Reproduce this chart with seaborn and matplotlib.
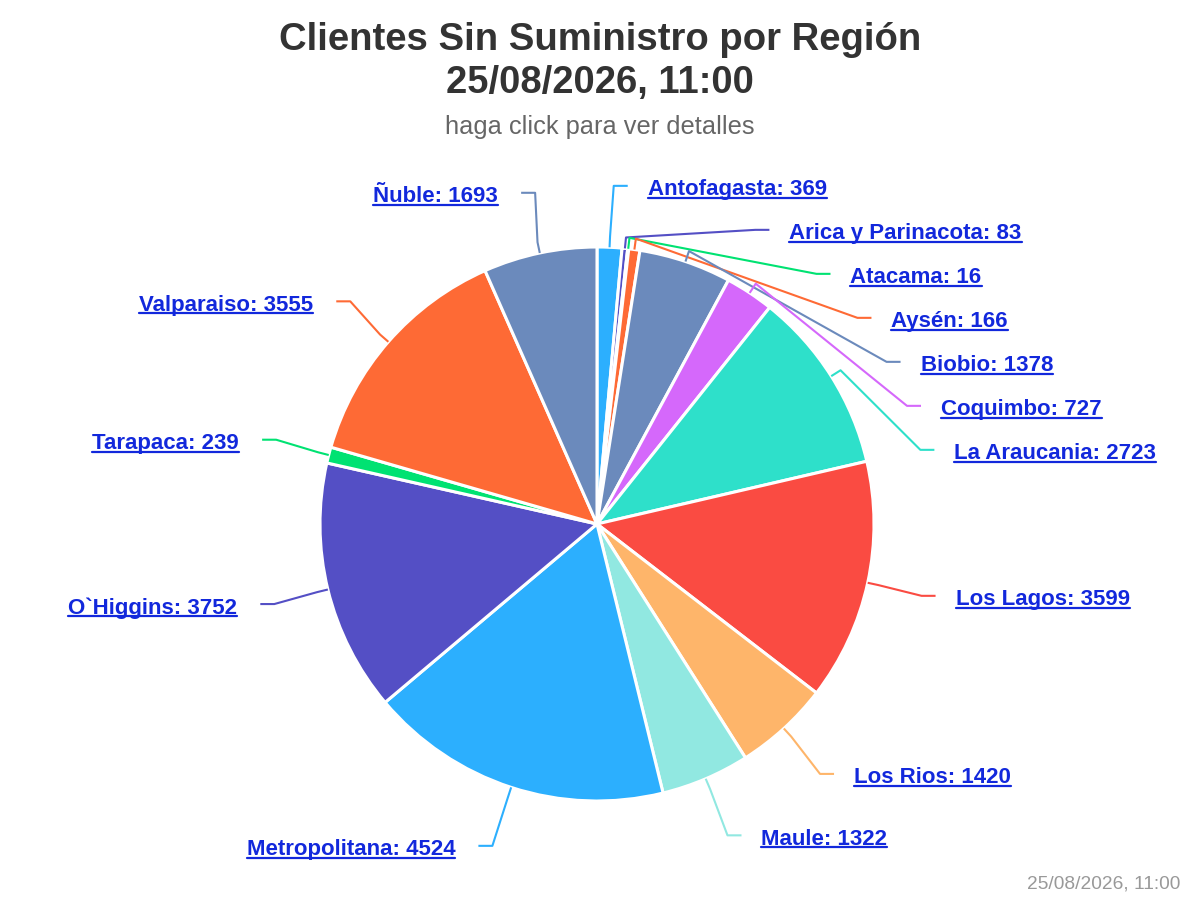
import numpy as np
import matplotlib
matplotlib.use("Agg")
import matplotlib.pyplot as plt
import seaborn as sns

# datos del gráfico
regions = ["Antofagasta", "Arica y Parinacota", "Atacama", "Aysén", "Biobio",
           "Coquimbo", "La Araucania", "Los Lagos", "Los Rios", "Maule",
           "Metropolitana", "O`Higgins", "Tarapaca", "Valparaiso", "Ñuble"]
clients = [369, 83, 16, 166, 1378, 727, 2723, 3599, 1420, 1322,
           4524, 3752, 239, 3555, 1693]
palette = ["#2caffe", "#544fc5", "#00e272", "#fe6a35", "#6b8abc",
           "#d568fb", "#2ee0ca", "#fa4b42", "#feb56a", "#91e8e1"]
title_lines = ["Clientes Sin Suministro por Región", "25/08/2026, 11:00"]
subtitle = "haga click para ver detalles"
credits = "25/08/2026, 11:00"

sns.set_theme(style="white")
plt.rcParams["font.family"] = ["Liberation Sans", "DejaVu Sans"]

W, H = 1200, 900
CX, CY = 597, 524          # centro de la torta (pixeles, y hacia abajo)
R_PIE = 277
R_Y = 338.5                # radio para la posición ideal de las etiquetas
A_X, B_Y, CY_E = 346, 341, 525.5   # elipse donde terminan los conectores
LINK = "#1228dc"

colors = sns.color_palette(palette, n_colors=len(palette))
slice_colors = [colors[i % len(colors)] for i in range(len(clients))]

fig = plt.figure(figsize=(12, 9), dpi=100)
ax = fig.add_axes([0, 0, 1, 1])

ax.pie(clients, colors=slice_colors, startangle=90, counterclock=False,
       center=(CX, H - CY), radius=R_PIE,
       wedgeprops=dict(edgecolor="white", linewidth=2.2))
ax.set_xlim(0, W)
ax.set_ylim(0, H)
ax.set_aspect("equal")
ax.axis("off")

# ángulos medios (grados, sentido horario desde arriba)
total = float(sum(clients))
cum = np.concatenate([[0], np.cumsum(clients)])
mid = (cum[:-1] + np.array(clients) / 2) / total * 360


def place(idx):
    ideal = {i: CY - R_Y * np.cos(np.radians(mid[i])) for i in idx}
    ys, prev = {}, -1e9
    for i in sorted(idx, key=lambda k: ideal[k]):
        ys[i] = max(ideal[i], prev + 44)
        prev = ys[i]
    return ys


right = [i for i in range(len(clients)) if mid[i] < 180]
left = [i for i in range(len(clients)) if mid[i] >= 180]
label_y = {**place(right), **place(left)}

labels = []
for i, name in enumerate(regions):
    t = np.radians(mid[i])
    side = 1 if mid[i] < 180 else -1
    y = label_y[i]
    k = min(abs(y - CY_E) / B_Y, 1.0)
    x_end = CX + side * A_X * np.sqrt(1 - k ** 2)
    ex, ey = CX + R_PIE * np.sin(t), CY - R_PIE * np.cos(t)
    ox, oy = CX + (R_PIE + 11) * np.sin(t), CY - (R_PIE + 11) * np.cos(t)
    px = [ex, ox, x_end - side * 14, x_end]
    py = [ey, oy, y, y]
    ax.plot(px, [H - v for v in py], color=slice_colors[i], lw=1.5,
            solid_capstyle="butt", zorder=1)
    tx = x_end + 20 if side > 0 else x_end - 23
    txt = ax.text(tx, H - (y + 4), f"{name}: {clients[i]}",
                  ha="left" if side > 0 else "right", va="center",
                  fontsize=16, fontweight="bold", color=LINK)
    labels.append(txt)

fig.text(0.5, 1 - 40 / H, title_lines[0], ha="center", va="center",
         fontsize=27.5, fontweight="bold", color="#333333")
fig.text(0.5, 1 - 83 / H, title_lines[1], ha="center", va="center",
         fontsize=27.5, fontweight="bold", color="#333333")
fig.text(0.5, 1 - 127 / H, subtitle, ha="center", va="center",
         fontsize=18.3, color="#666666")
fig.text(1180 / W, 1 - 884 / H, credits, ha="right", va="center",
         fontsize=13.8, color="#999999")

# subrayado de las etiquetas
fig.canvas.draw()
renderer = fig.canvas.get_renderer()
for txt in labels:
    bb = txt.get_window_extent(renderer)
    ax.plot([bb.x0, bb.x1], [bb.y0 + 2.5, bb.y0 + 2.5], color=LINK, lw=1.6)

fig.savefig("out.png", dpi=100, facecolor="white")
